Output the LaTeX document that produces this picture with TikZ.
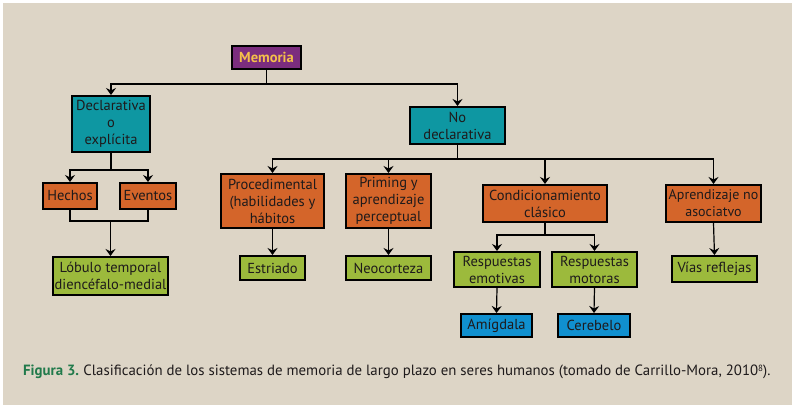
\documentclass[tikz,border=0pt]{standalone}
\usepackage{fontspec}
\setmainfont{PT Sans}
\usetikzlibrary{arrows.meta}
\definecolor{bgpanel}{HTML}{DDD5C6}
\definecolor{cpurple}{HTML}{7B2D7E}
\definecolor{cmemtext}{HTML}{F4C04A}
\definecolor{cteal}{HTML}{0E97A2}
\definecolor{corange}{HTML}{D4652A}
\definecolor{cgreen}{HTML}{9CBA3C}
\definecolor{cblue}{HTML}{1090CF}
\definecolor{ctext}{HTML}{1E1A1B}
\definecolor{cfig}{HTML}{217A4B}
\begin{document}
\begin{tikzpicture}[x=1pt,y=-1pt,
  box/.style={draw=black,line width=2pt,inner sep=0pt,align=center,
    font=\fontsize{14.5}{17}\selectfont,text=ctext},
  purplebox/.style={box,fill=cpurple,text=cmemtext,font=\fontsize{14.5}{17}\selectfont\bfseries},
  tealbox/.style={box,fill=cteal},
  orangebox/.style={box,fill=corange},
  greenbox/.style={box,fill=cgreen},
  bluebox/.style={box,fill=cblue},
  wire/.style={line width=1.2pt},
  arr/.style={wire,-{Stealth[length=7pt,width=10pt,inset=2.5pt]}}]
\fill[white] (0,0) rectangle (796,410);
\fill[bgpanel] (3,3) rectangle (792,405);
\useasboundingbox (0,0) rectangle (796,410);

% nodes
\node[purplebox,minimum width=69pt,minimum height=23pt] (mem) at (266.5,57.5) {Memoria};
\node[tealbox,minimum width=78pt,minimum height=56pt] (decl) at (111,124) {Declarativa\\o\\explícita};
\node[tealbox,minimum width=95pt,minimum height=37pt] (nodecl) at (457.5,125.5) {No\\declarativa};
\node[orangebox,minimum width=54pt,minimum height=26pt] (hech) at (70,196) {Hechos};
\node[orangebox,minimum width=56pt,minimum height=26pt] (even) at (148,196) {Eventos};
\node[greenbox,minimum width=115pt,minimum height=38pt] (lob) at (110.5,276) {Lóbulo temporal\\diencéfalo-medial};
\node[orangebox,minimum width=103pt,minimum height=54pt] (proc) at (272.5,201) {Procedimental\\(habilidades y\\hábitos};
\node[orangebox,minimum width=85pt,minimum height=54pt] (prim) at (388.5,201) {Priming y\\aprendizaje\\perceptual};
\node[orangebox,minimum width=124pt,minimum height=37pt] (cond) at (545,203.5) {Condicionamiento\\clásico};
\node[orangebox,minimum width=95pt,minimum height=37pt,font=\fontsize{14}{17}\selectfont] (apr) at (713.5,203.5) {Aprendizaje no\\asociatvo};
\node[greenbox,minimum width=65pt,minimum height=24pt] (estr) at (272.5,268) {Estriado};
\node[greenbox,minimum width=85pt,minimum height=24pt] (neo) at (388.5,268) {Neocorteza};
\node[greenbox,minimum width=86pt,minimum height=35pt] (remo) at (497,269.5) {Respuestas\\emotivas};
\node[greenbox,minimum width=85pt,minimum height=35pt] (rmot) at (594.5,269.5) {Respuestas\\motoras};
\node[greenbox,minimum width=85pt,minimum height=26pt] (vias) at (714.5,269) {Vías reflejas};
\node[bluebox,minimum width=71pt,minimum height=23pt] (amig) at (496.5,325.5) {Amígdala};
\node[bluebox,minimum width=72pt,minimum height=23pt] (cere) at (594,325.5) {Cerebelo};

% junctions
\coordinate (j1) at (266.5,84);
\coordinate (j2) at (111,170);
\coordinate (j3a) at (70,221);
\coordinate (j3b) at (148,221);
\coordinate (j3) at (110.5,221);
\coordinate (j4) at (457.5,159);
\coordinate (j5) at (545,235);

% connectors
\draw[wire] (mem.south) -- (j1);
\draw[arr] (j1) -| (decl.north);
\draw[arr] (j1) -| (nodecl.north);
\draw[wire] (decl.south) -- (j2);
\draw[arr] (j2) -| (hech.north);
\draw[arr] (j2) -| (even.north);
\draw[wire] (hech.south) -- (j3a) -- (j3b) -- (even.south);
\draw[arr] (j3) -- (lob.north);
\draw[wire] (nodecl.south) -- (j4);
\draw[arr] (j4) -| (proc.north);
\draw[arr] (j4) -| (prim.north);
\draw[arr] (j4) -| (cond.north);
\draw[arr] (j4) -| (apr.north);
\draw[arr] (proc.south) -- (estr.north);
\draw[arr] (prim.south) -- (neo.north);
\draw[wire] (cond.south) -- (j5);
\draw[arr] (j5) -| (remo.north);
\draw[arr] (j5) -| (rmot.north);
\draw[arr] (remo.south) -- (amig.north);
\draw[arr] (rmot.south) -- (cere.north);
\draw[arr] (apr.south) -- (vias.north);

% caption
\node[anchor=west,inner sep=0pt,font=\fontsize{14.85}{17}\selectfont,text=ctext] (cap) at (23,372)
  {\textcolor{cfig}{\bfseries Figura 3.}\hspace{-1pt} Clasificación de los sistemas de memoria de largo plazo en seres humanos (tomado de Carrillo-Mora, 2010\raisebox{0.55ex}{\fontsize{9}{9}\selectfont 8}).};
\end{tikzpicture}
\end{document}
